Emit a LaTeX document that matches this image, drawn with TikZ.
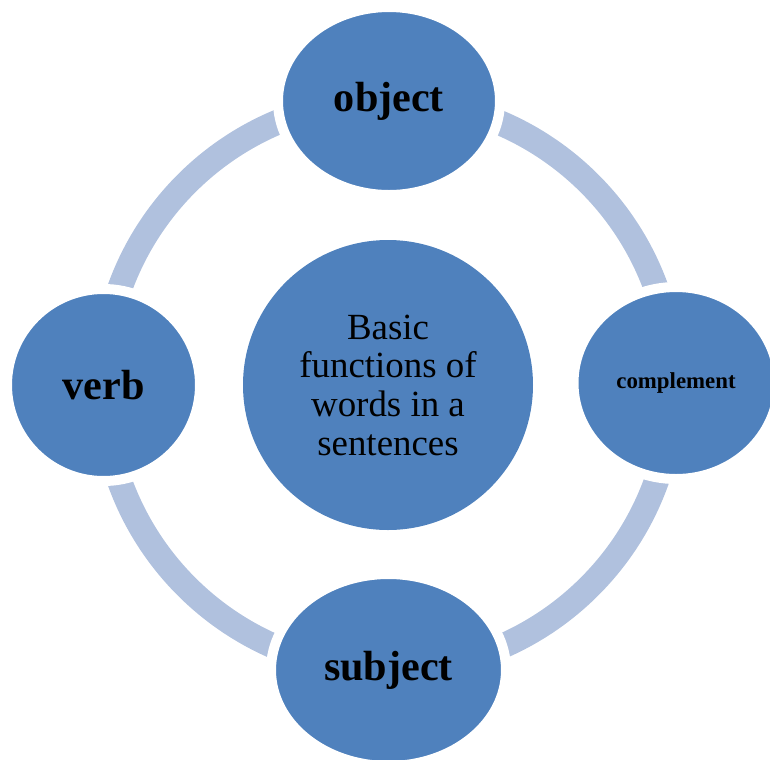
\documentclass[tikz,border=0pt]{standalone}
\usepackage{fontspec}
\setmainfont{Liberation Serif}
\usepackage{xcolor}
\usepackage{tikz}
\usetikzlibrary{shapes.geometric, positioning, calc}

\definecolor{nodeblue}{RGB}{79,129,189}
\definecolor{ringblue}{RGB}{176,193,222}

\begin{document}
\begin{tikzpicture}[
    part/.style={draw=white, line width=0.2cm, ellipse, fill=nodeblue, inner sep=0pt, align=center, font=\fontsize{24}{28}\selectfont\bfseries},
    hub/.style={circle, fill=nodeblue, inner sep=0pt, minimum size=5.8cm, align=center, font=\fontsize{21}{22}\selectfont},
    ringline/.style={draw=ringblue, line width=0.5cm}
  ]
  \useasboundingbox (0,0) rectangle (15.4,-15.2);
  \clip (0,0) rectangle (15.4,-15.2);

  % Centre
  \node[hub] (centre) at (7.76,-7.70) {Basic\\functions of\\words in a\\sentences};

  % Ring
  \draw[ringline] (centre.center) circle (5.7);

  % Nodes
  \node[part, minimum width=4.44cm, minimum height=3.76cm] (object) at (7.78,-2.02) {object};
  \node[part, minimum width=3.86cm, minimum height=3.84cm] (verb) at (2.07,-7.70) {verb};
  \node[part, minimum width=4.1cm, minimum height=3.84cm, font=\fontsize{13}{15}\selectfont\bfseries] (complement) at (13.52,-7.66) {complement};
  \node[part, minimum width=4.7cm, minimum height=3.84cm] (subject) at (7.77,-13.40) {subject};
\end{tikzpicture}
\end{document}
